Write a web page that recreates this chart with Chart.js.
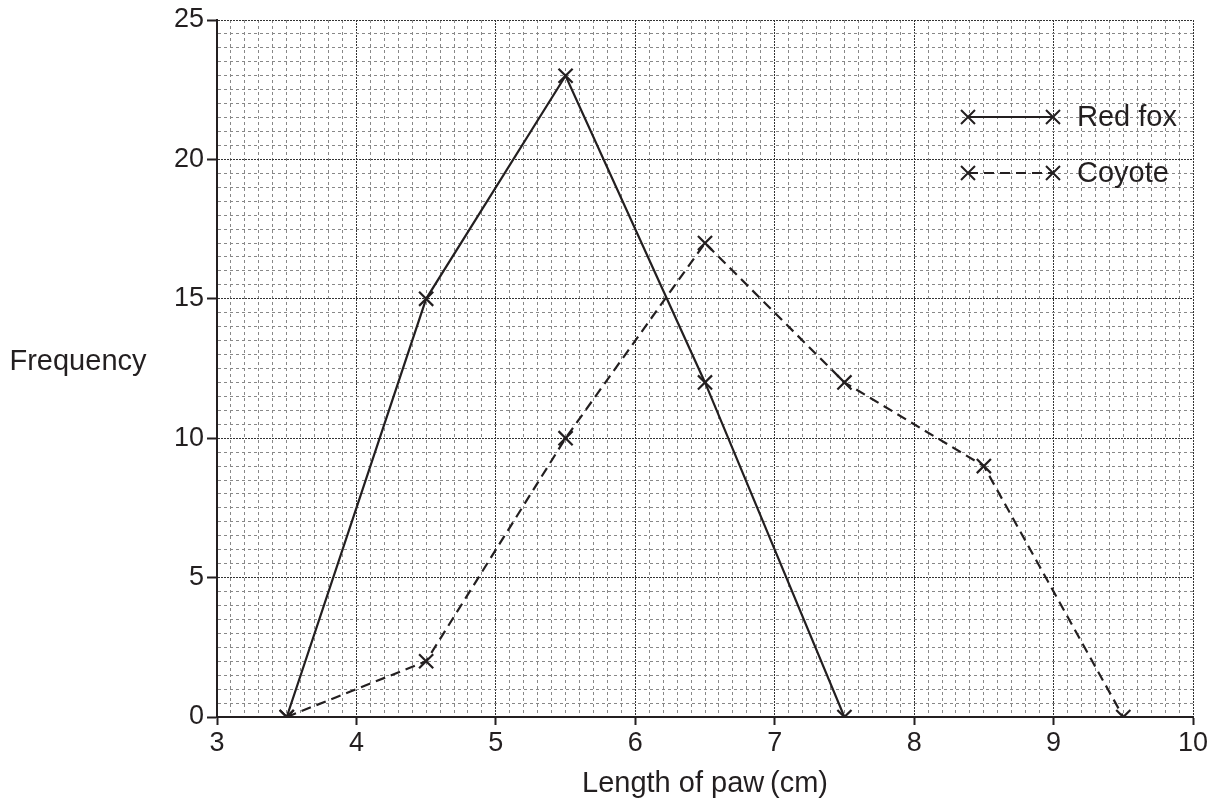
<!DOCTYPE html>
<html>
<head>
<meta charset="utf-8">
<script src="https://cdn.jsdelivr.net/npm/chart.js@4/dist/chart.umd.min.js"></script>
<style>
  html, body { margin: 0; padding: 0; background: #fff; }
  #wrap { width: 1216px; height: 800px; position: relative; }
</style>
</head>
<body>
<div id="wrap"><canvas id="c" width="1216" height="800"></canvas></div>
<script>
// paw length midpoints (cm) and frequencies
var foxX = [3.5, 4.5, 5.5, 6.5, 7.5];
var foxY = [0, 15, 23, 12, 0];
var coyoteX = [3.5, 4.5, 5.5, 6.5, 7.5, 8.5, 9.5];
var coyoteY = [0, 2, 10, 17, 12, 9, 0];
var xTickLabels = ["3", "4", "5", "6", "7", "8", "9", "10"];
var yTickLabels = ["0", "5", "10", "15", "20", "25"];
var seriesNames = ["Red fox", "Coyote"];

var INK = "#231f20";
var FONT = "Liberation Sans, Arial, sans-serif";

function pts(xs, ys) {
  return xs.map(function (x, i) { return { x: x, y: ys[i] }; });
}

function isWhole(v, step) {
  var r = v / step;
  return Math.abs(r - Math.round(r)) < 1e-6;
}

// legend + axis titles drawn straight on the canvas
var extras = {
  id: "extras",
  afterDraw: function (chart) {
    var ctx = chart.ctx;
    ctx.save();
    ctx.fillStyle = INK;
    ctx.font = "29px " + FONT;
    ctx.textAlign = "center";
    ctx.textBaseline = "alphabetic";
    ctx.fillText("Frequency", 78, 370);
    ctx.fillText("Length of paw\u2009(cm)", 705, 792);

    var rows = [
      { name: seriesNames[0], y: 117, dash: [] },
      { name: seriesNames[1], y: 173, dash: [10, 6] },
    ];
    rows.forEach(function (r) {
      ctx.strokeStyle = INK;
      ctx.lineWidth = 2;
      ctx.setLineDash(r.dash);
      ctx.beginPath();
      ctx.moveTo(968, r.y);
      ctx.lineTo(1053, r.y);
      ctx.stroke();
      ctx.setLineDash([]);
      [968, 1053].forEach(function (px) {
        ctx.beginPath();
        ctx.moveTo(px - 7, r.y - 7); ctx.lineTo(px + 7, r.y + 7);
        ctx.moveTo(px - 7, r.y + 7); ctx.lineTo(px + 7, r.y - 7);
        ctx.stroke();
      });
      ctx.textAlign = "left";
      ctx.textBaseline = "middle";
      ctx.fillText(r.name, 1077, r.y + 1);
    });
    ctx.restore();
  }
};

new Chart(document.getElementById("c"), {
  type: "scatter",
  data: {
    datasets: [
      { label: seriesNames[0], data: pts(foxX, foxY), showLine: true,
        borderColor: INK, backgroundColor: INK, borderWidth: 2.2,
        pointStyle: "crossRot", pointRadius: 10, pointBorderWidth: 2.2 },
      { label: seriesNames[1], data: pts(coyoteX, coyoteY), showLine: true,
        borderColor: INK, backgroundColor: INK, borderWidth: 2.2, borderDash: [10, 6],
        pointStyle: "crossRot", pointRadius: 10, pointBorderWidth: 2.2 },
    ],
  },
  options: {
    responsive: false,
    animation: false,
    layout: { padding: { top: 20, right: 23, left: 0, bottom: 0 } },
    plugins: { legend: { display: false }, tooltip: { enabled: false } },
    scales: {
      x: {
        type: "linear", min: 3, max: 10,
        afterFit: function (s) { s.height = 83; },
        ticks: {
          stepSize: 0.1, autoSkip: false, maxRotation: 0, padding: 2,
          color: INK, font: { size: 27, family: FONT },
          callback: function (v) {
            return isWhole(v, 1) ? xTickLabels[Math.round(v) - 3] : "";
          },
        },
        grid: {
          color: function (c) { return isWhole(c.tick.value, 1) ? "#333" : "#888"; },
          lineWidth: 1,
          tickLength: 8, tickWidth: 2,
          tickColor: function (c) { return isWhole(c.tick.value, 1) ? INK : "rgba(0,0,0,0)"; },
        },
        border: {
          color: INK, width: 2,
          dash: function (c) { return isWhole(c.tick.value, 1) ? [2, 1] : [3, 3]; },
        },
      },
      y: {
        min: 0, max: 25,
        afterFit: function (s) { s.width = 217; },
        ticks: {
          stepSize: 0.5, autoSkip: false, padding: 3,
          color: INK, font: { size: 27, family: FONT },
          callback: function (v) {
            return isWhole(v, 5) ? yTickLabels[Math.round(v) / 5] : "";
          },
        },
        grid: {
          color: function (c) { return isWhole(c.tick.value, 5) ? "#333" : "#888"; },
          lineWidth: 1,
          tickLength: 10, tickWidth: 2,
          tickColor: function (c) { return isWhole(c.tick.value, 5) ? INK : "rgba(0,0,0,0)"; },
        },
        border: {
          color: INK, width: 2,
          dash: function (c) { return isWhole(c.tick.value, 5) ? [2, 1] : [3, 3]; },
        },
      },
    },
  },
  plugins: [extras],
});
</script>
</body>
</html>
